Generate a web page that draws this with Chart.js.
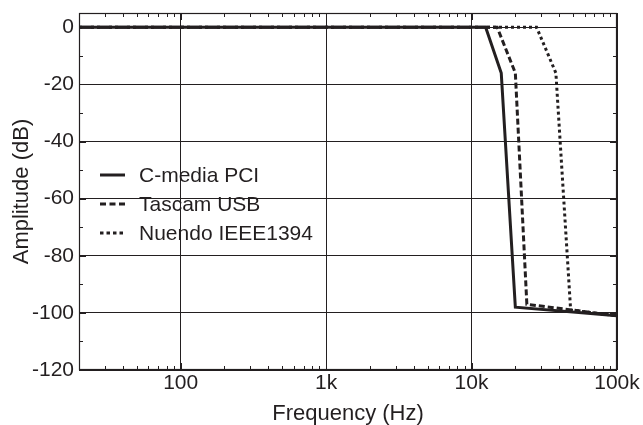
<!DOCTYPE html>
<html>
<head>
<meta charset="utf-8">
<script src="https://cdn.jsdelivr.net/npm/chart.js@4"></script>
<style>
    html, body { margin: 0; padding: 0; background: #fff; }
    #wrap { width: 643px; height: 425px; }
</style>
</head>
<body>
<div id="wrap"><canvas id="responseChart" width="643" height="425"></canvas></div>
<script>
const seriesNames = ['C-media PCI', 'Tascam USB', 'Nuendo IEEE1394'];

const cmediaFreq = [20, 12500, 16000, 20000, 100000];
const cmediaAmp = [0, 0, -16, -98, -101];

const tascamFreq = [20, 15000, 20000, 24000, 100000];
const tascamAmp = [0, 0, -16, -97, -101];

const nuendoFreq = [20, 28000, 38000, 48000, 100000];
const nuendoAmp = [0, 0, -16, -99, -101];

const xTickValues = [100, 1000, 10000, 100000];
const xTickLabels = ['100', '1k', '10k', '100k'];
const yTickValues = [-120, -100, -80, -60, -40, -20, 0];

const ink = '#231f20';
const font = "'Liberation Sans', Arial, sans-serif";

function toPoints(xs, ys) {
    return xs.map((x, i) => ({ x: x, y: ys[i] }));
}

// frame + inward minor ticks, like the original plot
const framePlugin = {
    id: 'frame',
    afterDraw(chart) {
        const { ctx, chartArea: a, scales: { x, y } } = chart;
        ctx.save();
        ctx.strokeStyle = ink;
        ctx.lineWidth = 1;
        ctx.beginPath();
        for (let d = 10; d <= 100000; d *= 10) {
            for (let m = 1; m < 10; m++) {
                const v = d * m;
                if (v < 20 || v > 100000) continue;
                const px = Math.round(x.getPixelForValue(v)) + 0.5;
                const len = m === 1 ? 7 : 4;
                ctx.moveTo(px, a.bottom);
                ctx.lineTo(px, a.bottom - len);
                ctx.moveTo(px, a.top);
                ctx.lineTo(px, a.top + len);
            }
        }
        for (let v = -120; v <= 0; v += 10) {
            const py = Math.round(y.getPixelForValue(v)) + 0.5;
            const len = v % 20 === 0 ? 7 : 4;
            ctx.moveTo(a.left, py);
            ctx.lineTo(a.left + len, py);
            ctx.moveTo(a.right, py);
            ctx.lineTo(a.right - len, py);
        }
        ctx.stroke();
        ctx.lineWidth = 1.2;
        ctx.strokeRect(a.left + 0.5, a.top + 0.5, a.right - a.left - 1, a.bottom - a.top - 1);
        ctx.restore();
    }
};

// legend sitting inside the plot area
const insideLegend = {
    id: 'insideLegend',
    afterDatasetsDraw(chart) {
        const { ctx } = chart;
        ctx.save();
        ctx.font = '21px ' + font;
        ctx.fillStyle = ink;
        ctx.textBaseline = 'middle';
        chart.data.datasets.forEach((ds, i) => {
            const ly = 175 + i * 29;
            ctx.beginPath();
            ctx.strokeStyle = ink;
            ctx.lineWidth = ds.borderWidth;
            ctx.setLineDash(ds.legendDash || []);
            ctx.moveTo(100, ly);
            ctx.lineTo(125, ly);
            ctx.stroke();
            ctx.setLineDash([]);
            ctx.fillText(ds.label, 139, ly + 1);
        });
        ctx.restore();
    }
};

const chartCtx = document.getElementById('responseChart').getContext('2d');

new Chart(chartCtx, {
    type: 'line',
    data: {
        datasets: [
            {
                label: seriesNames[0],
                data: toPoints(cmediaFreq, cmediaAmp),
                borderColor: ink,
                borderWidth: 3,
                pointRadius: 0,
                tension: 0,
            },
            {
                label: seriesNames[1],
                data: toPoints(tascamFreq, tascamAmp),
                borderColor: ink,
                borderWidth: 3,
                borderDash: [6, 3],
                legendDash: [6, 3.5],
                pointRadius: 0,
                tension: 0,
            },
            {
                label: seriesNames[2],
                data: toPoints(nuendoFreq, nuendoAmp),
                borderColor: ink,
                borderWidth: 3,
                borderDash: [3, 3],
                legendDash: [3.5, 3],
                pointRadius: 0,
                tension: 0,
            },
        ],
    },
    options: {
        responsive: false,
        animation: false,
        devicePixelRatio: 1,
        layout: {
            padding: { top: 13, right: 26, left: 0, bottom: 0 },
        },
        scales: {
            x: {
                type: 'logarithmic',
                min: 20,
                max: 100000,
                afterFit: (scale) => {
                    scale.height = 55;
                    scale.paddingLeft = 0;
                    scale.paddingRight = 0;
                },
                afterBuildTicks: (scale) => {
                    scale.ticks = xTickValues.map((v) => ({ value: v }));
                },
                border: { display: false },
                grid: {
                    color: ink,
                    lineWidth: 1,
                    drawTicks: false,
                },
                ticks: {
                    color: ink,
                    padding: 1,
                    autoSkip: false,
                    maxRotation: 0,
                    font: { family: font, size: 21 },
                    callback: function (value) {
                        const idx = xTickValues.indexOf(value);
                        return idx >= 0 ? xTickLabels[idx] : '';
                    },
                },
                title: {
                    display: true,
                    text: 'Frequency (Hz)',
                    color: ink,
                    padding: { top: 0, bottom: 0 },
                    font: { family: font, size: 22, lineHeight: 1 },
                },
            },
            y: {
                min: -120,
                max: 5,
                afterFit: (scale) => {
                    scale.width = 79;
                    scale.paddingTop = 0;
                    scale.paddingBottom = 0;
                },
                afterBuildTicks: (scale) => {
                    scale.ticks = yTickValues.map((v) => ({ value: v }));
                },
                border: { display: false },
                grid: {
                    color: ink,
                    lineWidth: 1,
                    drawTicks: false,
                },
                ticks: {
                    color: ink,
                    padding: 5,
                    font: { family: font, size: 21 },
                },
                title: {
                    display: true,
                    text: 'Amplitude (dB)',
                    color: ink,
                    padding: { top: 11, bottom: 0 },
                    font: { family: font, size: 22, lineHeight: 1 },
                },
            },
        },
        plugins: {
            legend: { display: false },
            tooltip: { enabled: false },
        },
    },
    plugins: [framePlugin, insideLegend],
});
</script>
</body>
</html>
